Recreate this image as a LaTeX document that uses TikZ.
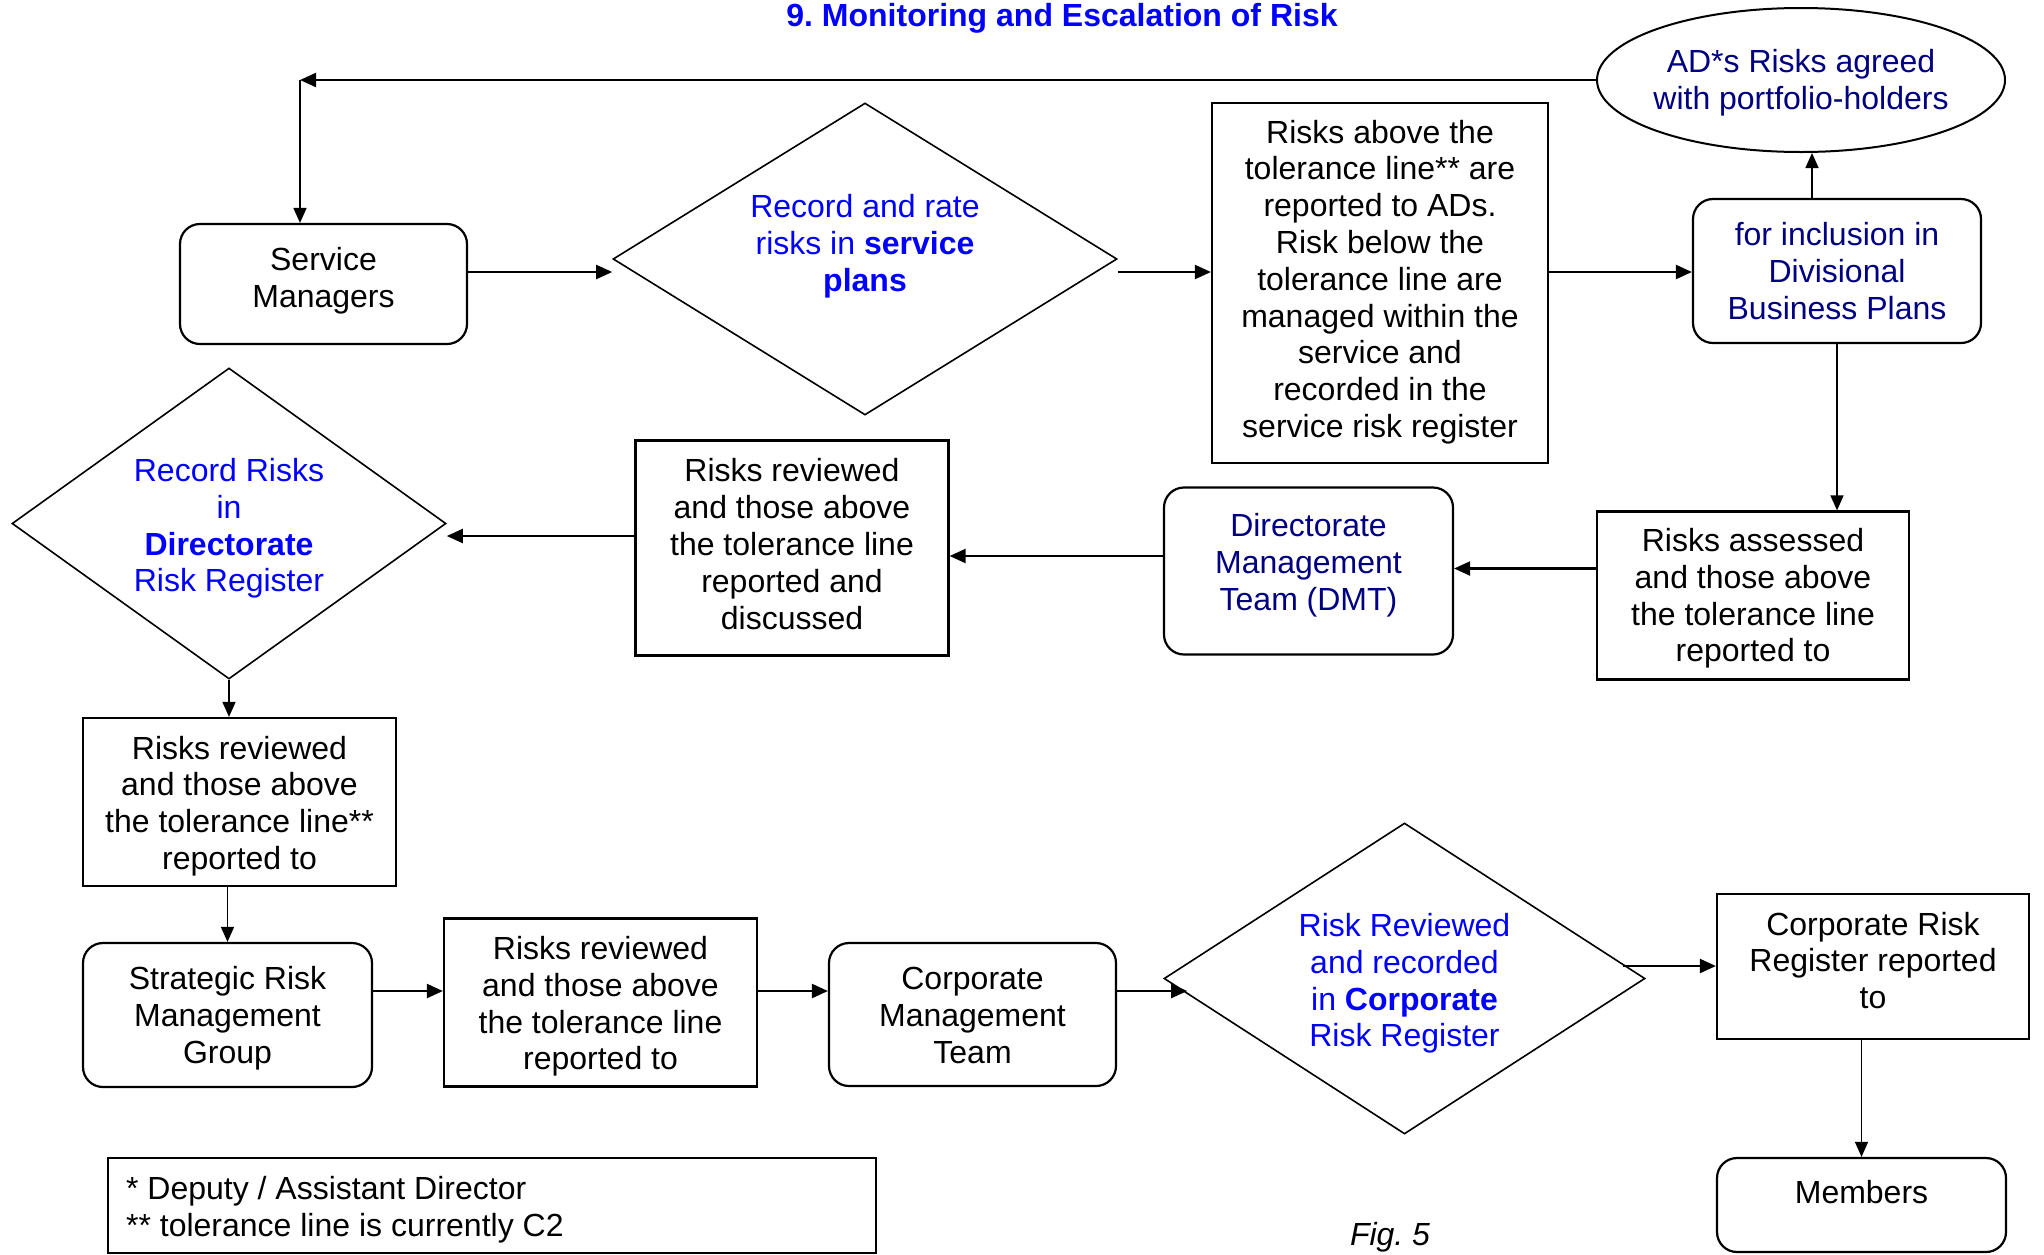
\documentclass[tikz,border=0pt]{standalone}
\usepackage{fontspec}
\setmainfont{Liberation Sans}
\usetikzlibrary{shapes.geometric,arrows.meta,calc}
\definecolor{navyt}{RGB}{0,0,128}
\definecolor{bluet}{RGB}{0,0,255}
\frenchspacing
\begin{document}
\begin{tikzpicture}[x=1pt,y=-1pt,
  every node/.style={font=\fontsize{32}{36.8}\selectfont, inner sep=0pt},
  sbox/.style={draw, line width=2.2pt, align=center},
  rbox/.style={draw, line width=2.2pt, rounded corners=20pt, align=center},
  dia/.style={draw, diamond, line width=1.6pt},
  harr/.style={-{Triangle[length=16pt,width=14pt]}, line width=2.2pt},
  varr/.style={-{Triangle[length=15pt,width=13pt]}, line width=1.5pt},
  tx/.style={align=center}
]
\useasboundingbox (0,0) rectangle (2044,1254);

\node[anchor=base, text=bluet, font=\fontsize{32}{36.8}\selectfont\bfseries] (title) at (1062,26) {9. Monitoring and Escalation of Risk};

\node[draw, ellipse, line width=2pt, minimum width=408pt, minimum height=144pt,
  label={[tx,text=navyt,yshift=-3pt]center:{AD*s Risks agreed\\with portfolio-holders}}] (ad) at (1801,80) {};

\node[rbox, minimum width=287pt, minimum height=120pt,
  label={[tx,yshift=3pt]center:{Service\\Managers}}] (sm) at (323.5,284) {};

\node[dia, minimum width=504pt, minimum height=312pt,
  label={[tx,text=bluet,yshift=13pt]center:{Record and rate\\risks in \textbf{service}\\\textbf{plans}}}] (d1) at (865,259) {};

\node[sbox, minimum width=336pt, minimum height=360pt,
  label={[tx,yshift=1pt]center:{Risks above the\\tolerance line** are\\reported to ADs.\\Risk below the\\tolerance line are\\managed within the\\service and\\recorded in the\\service risk register}}] (b4) at (1380,283) {};

\node[rbox, minimum width=288pt, minimum height=144pt,
  label={[tx,text=navyt]center:{for inclusion in\\Divisional\\Business Plans}}] (b5) at (1837,271) {};

\node[sbox, minimum width=312pt, minimum height=168pt,
  label={[tx,yshift=-3pt]center:{Risks assessed\\and those above\\the tolerance line\\reported to}}] (b6) at (1753,595.5) {};

\node[rbox, minimum width=289pt, minimum height=167pt,
  label={[tx,text=navyt,yshift=6pt]center:{Directorate\\Management\\Team (DMT)}}] (dmt) at (1308.5,571) {};

\node[sbox, minimum width=313pt, minimum height=215pt,
  label={[tx,yshift=4pt]center:{Risks reviewed\\and those above\\the tolerance line\\reported and\\discussed}}] (b7) at (792,548) {};

\node[dia, minimum width=434pt, minimum height=311pt,
  label={[tx,text=bluet,yshift=-5pt]center:{Record Risks\\in\\\textbf{Directorate}\\Risk Register}}] (d2) at (229,523.5) {};

\node[sbox, minimum width=313pt, minimum height=168pt,
  label={[tx,yshift=-4pt]center:{Risks reviewed\\and those above\\the tolerance line**\\reported to}}] (b8) at (239.5,802) {};

\node[rbox, minimum width=289pt, minimum height=144pt,
  label={[tx,yshift=-3pt]center:{Strategic Risk\\Management\\Group}}] (srmg) at (227.5,1015) {};

\node[sbox, minimum width=313pt, minimum height=168pt,
  label={[tx,yshift=-4pt]center:{Risks reviewed\\and those above\\the tolerance line\\reported to}}] (b9) at (600.5,1002.5) {};

\node[rbox, minimum width=287pt, minimum height=143pt,
  label={[tx,yshift=-1pt]center:{Corporate\\Management\\Team}}] (cmt) at (972.5,1014.5) {};

\node[dia, minimum width=481pt, minimum height=311pt,
  label={[tx,text=bluet,yshift=-5pt]center:{Risk Reviewed\\and recorded\\in \textbf{Corporate}\\Risk Register}}] (d3) at (1404.5,978.5) {};

\node[sbox, minimum width=312pt, minimum height=145pt,
  label={[tx,yshift=6pt]center:{Corporate Risk\\Register reported\\to}}] (b10) at (1873,966.5) {};

\node[rbox, minimum width=289pt, minimum height=94pt,
  label={[yshift=13pt]center:Members}] (mem) at (1861.5,1205) {};

\node[sbox, minimum width=768pt, minimum height=95pt,
  label={[align=left,anchor=west,xshift=19pt,yshift=-4pt]west:{* Deputy / Assistant Director\\{}** tolerance line is currently C2}}] (foot) at (492,1205.5) {};

\node[font=\fontsize{32}{36.8}\selectfont\itshape] (fig) at (1390,1237) {Fig. 5};

% connectors
\coordinate (c1) at (300,80);
\draw[harr] (ad.west) -- (ad.west -| c1);
\draw[varr] (c1) -- (c1 |- sm.north);

\coordinate (p1) at ($(sm.east)+(0,-12)$);
\draw[harr] (p1) -- (p1 -| d1.west);
\coordinate (p2) at ($(d1.east)+(0,13)$);
\draw[harr] (p2) -- (p2 -| b4.west);
\coordinate (p3) at ($(b4.east)+(0,-11)$);
\draw[harr] (p3) -- (p3 -| b5.west);
\coordinate (p4) at ($(b5.north)+(-25,0)$);
\draw[varr] (p4) -- (p4 |- ad.south);
\draw[varr] (b5.south) -- (b5.south |- b6.north);
\coordinate (p5) at ($(b6.west)+(0,-27)$);
\draw[harr] (p5) -- (p5 -| dmt.east);
\coordinate (p6) at ($(dmt.west)+(0,-15)$);
\draw[harr] (p6) -- (p6 -| b7.east);
\coordinate (p7) at ($(b7.west)+(0,-12)$);
\draw[harr] (p7) -- (p7 -| d2.east);
\draw[varr] (d2.south) -- (d2.south |- b8.north);
\draw[varr] (srmg.north |- b8.south) -- (srmg.north);
\coordinate (p8) at ($(srmg.east)+(0,-24)$);
\draw[harr] (p8) -- (p8 -| b9.west);
\coordinate (p9) at ($(b9.east)+(0,-11.5)$);
\draw[harr] (p9) -- (p9 -| cmt.west);
\coordinate (p10) at ($(cmt.east)+(0,-23.5)$);
\coordinate (p10e) at ($(p10 -| d3.west)+(24,0)$);
\draw[harr] (p10) -- (p10e);
\coordinate (p11) at ($(d3.east)+(-23,-12.5)$);
\draw[harr] (p11) -- (p11 -| b10.west);
\draw[varr] (mem.north |- b10.south) -- (mem.north);
\end{tikzpicture}
\end{document}
